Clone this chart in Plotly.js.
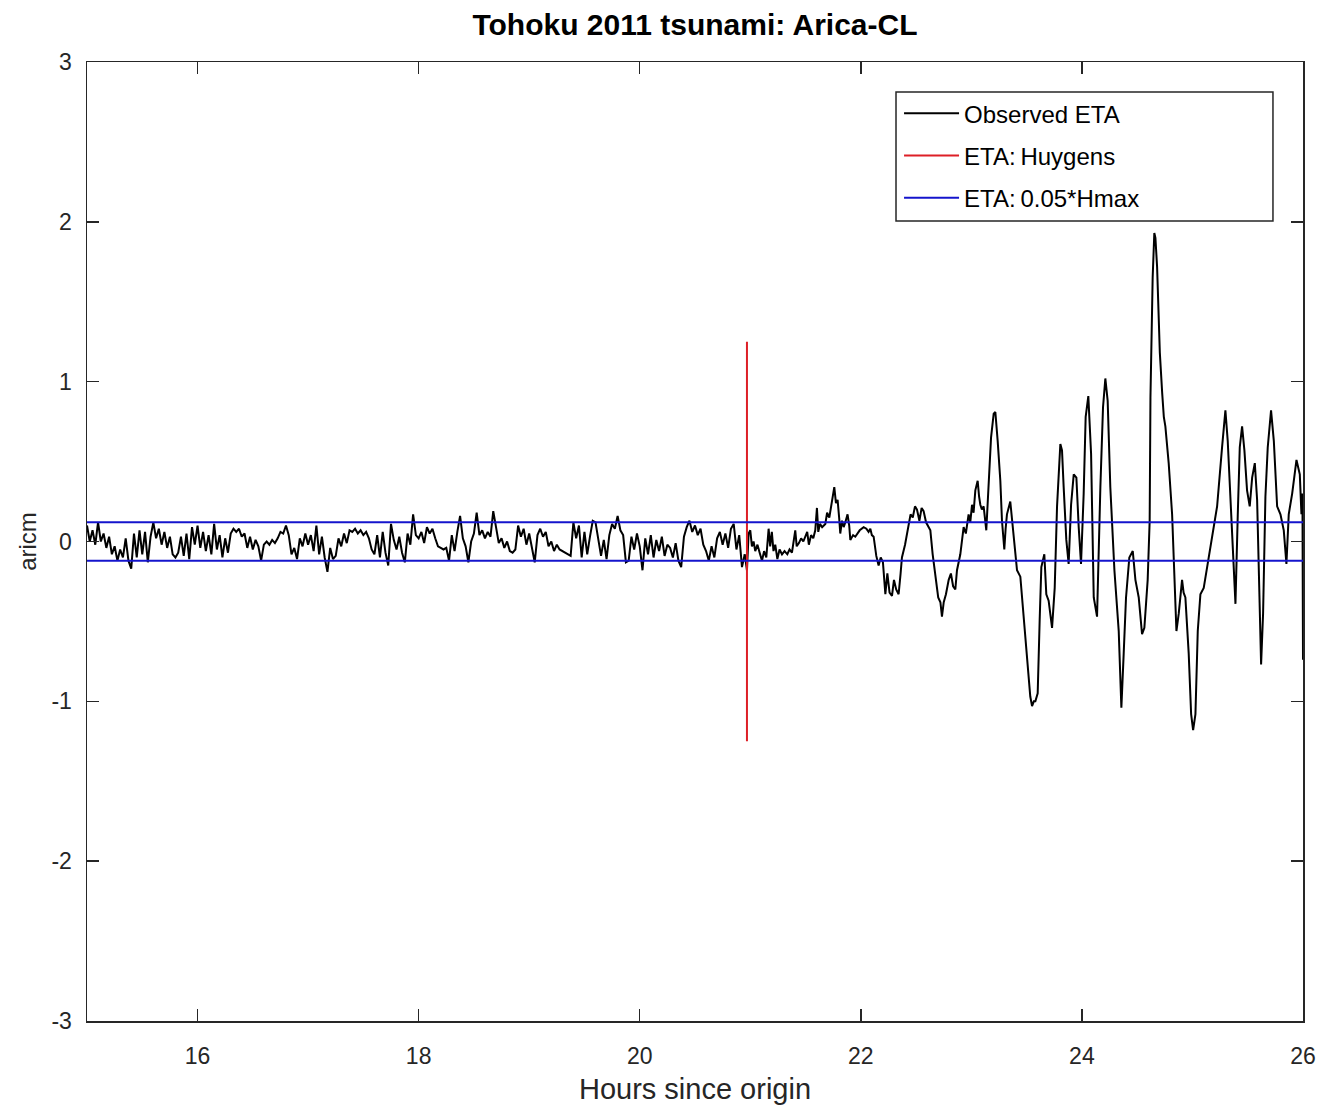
<!DOCTYPE html>
<html>
<head>
<meta charset="utf-8">
<script src="https://cdn.plot.ly/plotly-3.0.1.min.js"></script>
<style>html,body{margin:0;padding:0;background:#fff;}#chart{width:1322px;height:1109px;}</style>
</head>
<body>
<div id="chart"></div>
<script>
// ---- Data ----
// Observed sea level (aricm), regular sampling before the tsunami arrival
const noiseStart = 15.0;     // hours
const noiseStep = 0.025;     // hours between samples
const noiseEta = [
  // 15.0 - 15.975
  0.10, 0.00, 0.07, -0.02, 0.12, 0.00, 0.05, -0.04, 0.03, -0.08,
  -0.03, -0.12, -0.05, -0.10, 0.02, -0.12, -0.17, 0.05, -0.10, 0.07,
  -0.08, 0.06, -0.13, 0.03, 0.12, 0.02, 0.08, -0.02, 0.06, -0.04,
  0.03, -0.08, -0.10, -0.07, 0.03, -0.09, 0.05, -0.11, 0.09, -0.02,
  // 16.0 - 16.975
  0.10, -0.04, 0.06, -0.06, 0.04, -0.08, 0.11, -0.05, 0.04, -0.10,
  0.02, -0.07, 0.05, 0.08, 0.06, 0.08, 0.03, 0.05, -0.04, 0.03,
  -0.05, 0.01, -0.03, -0.12, -0.02, 0.00, -0.02, 0.01, -0.01, 0.02,
  0.06, 0.05, 0.10, 0.04, -0.08, -0.04, -0.11, 0.02, -0.03, 0.05,
  // 17.0 - 17.975
  -0.02, 0.04, -0.06, 0.10, -0.08, 0.03, -0.10, -0.19, -0.04, -0.11,
  -0.09, 0.02, -0.03, 0.05, -0.01, 0.07, 0.06, 0.08, 0.05, 0.07,
  0.04, 0.06, 0.02, -0.05, -0.08, 0.04, -0.10, 0.06, -0.07, -0.15,
  0.11, 0.01, -0.05, 0.03, -0.07, -0.13, 0.05, -0.02, 0.17, 0.04,
  // 18.0 - 18.975
  0.02, 0.06, -0.01, 0.09, 0.05, 0.08, 0.02, -0.03, -0.04, -0.05,
  -0.04, -0.12, 0.04, -0.06, 0.06, 0.16, 0.02, -0.03, -0.13, 0.00,
  0.05, 0.18, 0.04, 0.07, 0.02, 0.06, 0.03, 0.19, 0.09, -0.01,
  0.02, -0.04, 0.00, -0.06, -0.07, -0.05, 0.10, 0.03, 0.08, -0.02,
  // 19.0 - 19.975
  0.05, -0.04, -0.13, 0.04, 0.08, 0.03, 0.06, -0.03, 0.00, -0.06,
  -0.02, -0.05, -0.06, -0.07, -0.08, -0.09, 0.12, 0.02, 0.10, -0.10,
  0.06, -0.08, 0.03, 0.13, 0.12, 0.02, -0.09, 0.01, -0.11, 0.04,
  0.11, 0.08, 0.16, 0.07, 0.04, -0.13, -0.12, 0.03, -0.05, 0.05,
  // 20.0 - 20.95
  -0.03, -0.18, 0.02, -0.08, 0.04, -0.10, 0.01, -0.06, 0.03, -0.09,
  -0.02, -0.04, -0.10, -0.01, -0.12, -0.16, 0.03, 0.09, 0.13, 0.06,
  0.10, 0.04, 0.08, -0.02, -0.06, -0.12, -0.03, -0.10, 0.02, 0.06,
  -0.02, 0.05, -0.04, 0.08, 0.11, -0.05, 0.04, -0.16, -0.08
];

// Observed sea level after 20.95 h (tsunami waves)
const waveHours = [
  20.950, 20.970, 20.985, 21.000, 21.015, 21.030, 21.045, 21.065, 21.085, 21.106,
  21.125, 21.145, 21.166, 21.180, 21.195, 21.210, 21.226, 21.245, 21.265, 21.287,
  21.310, 21.335, 21.355, 21.377, 21.407, 21.420, 21.440, 21.460, 21.480, 21.498,
  21.515, 21.530, 21.550, 21.570, 21.588, 21.603, 21.615, 21.630, 21.650, 21.679,
  21.695, 21.715, 21.739, 21.760, 21.775, 21.790, 21.805, 21.814, 21.830, 21.845,
  21.860, 21.880, 21.895, 21.905, 21.930, 21.950, 21.990, 22.026, 22.050, 22.070,
  22.086, 22.100, 22.116, 22.140, 22.161, 22.180, 22.200, 22.222, 22.240, 22.260,
  22.282, 22.300, 22.320, 22.342, 22.360, 22.372, 22.400, 22.433, 22.450, 22.470,
  22.490, 22.508, 22.530, 22.550, 22.568, 22.590, 22.610, 22.629, 22.650, 22.674,
  22.700, 22.720, 22.734, 22.750, 22.770, 22.795, 22.815, 22.835, 22.855, 22.870,
  22.885, 22.900, 22.930, 22.950, 22.975, 22.990, 23.006, 23.020, 23.036, 23.057,
  23.070, 23.081, 23.095, 23.111, 23.135, 23.156, 23.178, 23.202, 23.217, 23.238,
  23.262, 23.277, 23.298, 23.310, 23.322, 23.352, 23.383, 23.413, 23.443, 23.473,
  23.503, 23.533, 23.549, 23.565, 23.579, 23.600, 23.618, 23.633, 23.660, 23.678,
  23.699, 23.730, 23.754, 23.775, 23.805, 23.820, 23.835, 23.859, 23.880, 23.902,
  23.926, 23.950, 23.971, 23.992, 24.016, 24.034, 24.058, 24.083, 24.107, 24.137,
  24.167, 24.191, 24.212, 24.233, 24.257, 24.294, 24.333, 24.357, 24.378, 24.399,
  24.429, 24.460, 24.484, 24.514, 24.544, 24.565, 24.595, 24.613, 24.620, 24.630,
  24.640, 24.655, 24.665, 24.680, 24.690, 24.705, 24.726, 24.741, 24.755, 24.785,
  24.816, 24.831, 24.855, 24.876, 24.906, 24.920, 24.936, 24.966, 24.988, 25.006,
  25.027, 25.048, 25.072, 25.102, 25.163, 25.223, 25.268, 25.298, 25.319, 25.343,
  25.368, 25.389, 25.410, 25.428, 25.449, 25.470, 25.494, 25.518, 25.540, 25.564,
  25.585, 25.609, 25.621, 25.639, 25.660, 25.681, 25.711, 25.736, 25.766, 25.796,
  25.826, 25.850, 25.871, 25.902, 25.941, 25.971, 25.986, 25.995, 26.000
];
const waveEta = [
  -0.08, -0.18, 0.05, 0.07, -0.03, 0.00, -0.06, -0.02, -0.07, -0.12,
  -0.06, -0.10, 0.08, -0.03, 0.06, -0.06, -0.02, -0.11, -0.05, -0.08,
  -0.06, -0.08, -0.05, -0.07, 0.07, -0.03, -0.01, 0.02, 0.00, 0.03,
  0.06, -0.02, 0.04, 0.02, 0.07, 0.21, 0.06, 0.11, 0.09, 0.11,
  0.18, 0.15, 0.26, 0.34, 0.24, 0.26, 0.14, 0.05, 0.13, 0.09,
  0.12, 0.17, 0.10, 0.01, 0.04, 0.03, 0.07, 0.09, 0.08, 0.06,
  0.08, 0.04, 0.03, -0.09, -0.15, -0.10, -0.13, -0.33, -0.20, -0.32,
  -0.34, -0.24, -0.30, -0.33, -0.20, -0.10, -0.02, 0.12, 0.17, 0.15,
  0.22, 0.20, 0.13, 0.21, 0.19, 0.12, 0.09, 0.07, -0.08, -0.22,
  -0.35, -0.38, -0.47, -0.38, -0.33, -0.24, -0.20, -0.28, -0.30, -0.18,
  -0.13, -0.08, 0.09, 0.05, 0.17, 0.12, 0.23, 0.18, 0.32, 0.38,
  0.28, 0.23, 0.20, 0.22, 0.07, 0.38, 0.65, 0.80, 0.81, 0.63,
  0.38, 0.13, -0.05, 0.08, 0.17, 0.25, 0.01, -0.18, -0.22, -0.49,
  -0.74, -0.97, -1.03, -1.00, -1.00, -0.95, -0.49, -0.16, -0.08, -0.33,
  -0.37, -0.54, -0.29, 0.22, 0.61, 0.57, 0.34, 0.01, -0.14, 0.23,
  0.42, 0.40, 0.09, -0.14, 0.30, 0.78, 0.91, 0.55, -0.35, -0.47,
  0.34, 0.84, 1.02, 0.88, 0.34, -0.18, -0.56, -1.04, -0.70, -0.35,
  -0.10, -0.06, -0.24, -0.35, -0.58, -0.54, -0.24, 0.13, 0.90, 1.40,
  1.65, 1.93, 1.90, 1.72, 1.47, 1.18, 0.93, 0.78, 0.72, 0.49,
  0.17, -0.16, -0.56, -0.45, -0.24, -0.32, -0.35, -0.70, -1.08, -1.18,
  -1.08, -0.56, -0.33, -0.29, -0.04, 0.22, 0.59, 0.82, 0.63, 0.28,
  -0.14, -0.39, 0.17, 0.59, 0.72, 0.57, 0.32, 0.22, 0.40, 0.49,
  0.26, -0.56, -0.77, -0.45, 0.28, 0.59, 0.82, 0.63, 0.22, 0.17,
  0.07, -0.14, 0.17, 0.30, 0.51, 0.42, 0.17, 0.30, -0.74
];

// Estimated time of arrival (Huygens) and its vertical marker span
const huygensHour = 20.97;
const huygensSpan = [-1.25, 1.25];

// Threshold lines: +/- 0.05*Hmax
const thresholdLevels = [0.12, -0.12];
const timeRange = [15, 26];

// Axis ticks
const xTickVals = [16, 18, 20, 22, 24, 26];
const yTickVals = [-3, -2, -1, 0, 1, 2, 3];

// ---- Traces ----
const FONT = 'Liberation Sans, Arial, Helvetica, sans-serif';

const obsNoise = {
  type: 'scatter', mode: 'lines', name: 'Observed ETA',
  x0: noiseStart, dx: noiseStep, y: noiseEta,
  line: {color: '#000000', width: 2},
  legendgroup: 'obs', hoverinfo: 'skip'
};
const obsWaves = {
  type: 'scatter', mode: 'lines', name: 'Observed ETA',
  x: waveHours, y: waveEta,
  line: {color: '#000000', width: 2},
  legendgroup: 'obs', showlegend: false, hoverinfo: 'skip'
};
const huy = {
  type: 'scatter', mode: 'lines', name: 'ETA:\u2009Huygens',
  x: [huygensHour, huygensHour], y: huygensSpan,
  line: {color: '#dd1f26', width: 2},
  legendgroup: 'huy', hoverinfo: 'skip'
};
const thrX = [], thrY = [];
thresholdLevels.forEach((lv, i) => {
  if (i > 0) { thrX.push(null); thrY.push(null); }
  thrX.push(timeRange[0], timeRange[1]);
  thrY.push(lv, lv);
});
const thr = {
  type: 'scatter', mode: 'lines', name: 'ETA:\u20090.05*Hmax',
  x: thrX, y: thrY,
  line: {color: '#1414cc', width: 2},
  legendgroup: 'thr', hoverinfo: 'skip'
};

const axisCommon = {
  showline: true, linecolor: '#262626', linewidth: 1.5, mirror: 'ticks',
  ticks: 'inside', ticklen: 12, tickwidth: 1.5, tickcolor: '#262626',
  showgrid: false, zeroline: false,
  tickfont: {family: FONT, size: 23, color: '#262626'}
};

// Legend frame (paper coordinates), wider than the entries as in the original
const legendFrame = {x0: 0.6653, x1: 0.9753, y0: 0.8342, y1: 0.9687};

const layout = {
  width: 1322, height: 1109,
  paper_bgcolor: '#ffffff', plot_bgcolor: '#ffffff',
  margin: {l: 87, r: 19, t: 62, b: 88},
  showlegend: true,
  title: {
    text: '<b>Tohoku 2011 tsunami: Arica-CL</b>',
    font: {family: FONT, size: 30, color: '#000000'},
    x: 0.5257, xanchor: 'center', y: 0.978, yanchor: 'middle'
  },
  xaxis: Object.assign({}, axisCommon, {
    range: timeRange, tickvals: xTickVals, ticktext: xTickVals.map(String),
    ticklabelstandoff: 14,
    title: {text: 'Hours since origin', font: {family: FONT, size: 29, color: '#262626'}, standoff: 10}
  }),
  yaxis: Object.assign({}, axisCommon, {
    range: [-3, 3], tickvals: yTickVals, ticktext: yTickVals.map(String),
    ticklabelstandoff: 9,
    title: {text: 'aricm', font: {family: FONT, size: 24, color: '#262626'}, standoff: 8}
  }),
  shapes: [{
    type: 'rect', xref: 'paper', yref: 'paper', layer: 'above',
    x0: legendFrame.x0, x1: legendFrame.x1, y0: legendFrame.y0, y1: legendFrame.y1,
    line: {color: '#262626', width: 1.5}, fillcolor: '#ffffff'
  }],
  legend: {
    x: 0.6678, xanchor: 'left', y: 0.9695, yanchor: 'top',
    bgcolor: 'rgba(0,0,0,0)', borderwidth: 0,
    font: {family: FONT, size: 24, color: '#000000'},
    traceorder: 'grouped', tracegroupgap: 8,
    itemwidth: 55
  }
};

Plotly.newPlot('chart', [obsNoise, obsWaves, huy, thr], layout, {displayModeBar: false, staticPlot: true});
</script>
</body>
</html>
